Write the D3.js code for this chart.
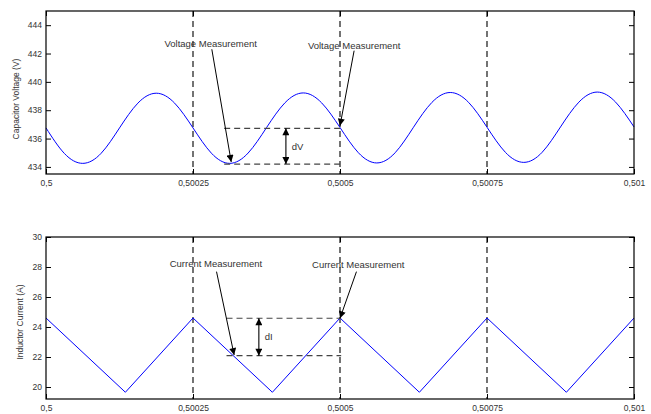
<!DOCTYPE html>
<html>
<head>
<meta charset="utf-8">
<script src="https://cdn.jsdelivr.net/npm/d3@7"></script>
<style>
  html, body { margin: 0; padding: 0; background: #fff; }
  svg { display: block; font-family: "Liberation Sans", Arial, sans-serif; }
</style>
</head>
<body>
<svg id="chart" width="651" height="414"></svg>
<script>
// ---------- Data ----------
// Voltage sampled every 1/8 of the 0.00025 s period, from 0.5 to 0.501
const voltageTimes = [
  0.5, 0.50003125, 0.5000625, 0.50009375, 0.500125, 0.50015625, 0.5001875, 0.50021875,
  0.50025, 0.50028125, 0.5003125, 0.50034375, 0.500375, 0.50040625, 0.5004375, 0.50046875,
  0.5005, 0.50053125, 0.5005625, 0.50059375, 0.500625, 0.50065625, 0.5006875, 0.50071875,
  0.50075, 0.50078125, 0.5008125, 0.50084375, 0.500875, 0.50090625, 0.5009375, 0.50096875,
  0.501
];
const voltageValues = [
  436.75, 434.95, 434.25, 434.96, 436.75, 438.50, 439.20, 438.50,
  436.75, 434.97, 434.25, 434.98, 436.77, 438.52, 439.22, 438.52,
  436.78, 435.00, 434.28, 435.00, 436.80, 438.55, 439.25, 438.55,
  436.80, 435.03, 434.32, 435.03, 436.82, 438.57, 439.28, 438.57,
  436.82
];
const currentTimes = [0.5, 0.500135, 0.50025, 0.500385, 0.5005, 0.500635, 0.50075, 0.500885, 0.501];
const currentValues = [24.6, 19.65, 24.6, 19.65, 24.6, 19.65, 24.6, 19.65, 24.6];

const xTicks = [0.5, 0.50025, 0.5005, 0.50075, 0.501];
const xDomain = [0.5, 0.501];
const markerTimes = [0.50025, 0.5005, 0.50075];
const voltageTicks = [434, 436, 438, 440, 442, 444];
const voltageDomain = [433.5, 445];
const currentTicks = [20, 22, 24, 26, 28, 30];
const currentDomain = [19.2, 30];

const voltageLabel = "Capacitor Voltage (V)";
const currentLabel = "Inductor Current (A)";

// Annotations (in data units)
const voltageNotes = [
  { text: "Voltage Measurement", t: 0.50028, v: 442.7, tailT: 0.500282, tailV: 442.3, tipT: 0.500315, tipV: 434.35 },
  { text: "Voltage Measurement", t: 0.500524, v: 442.55, tailT: 0.500524, tailV: 442.2, tipT: 0.5005, tipV: 436.9 }
];
const voltageDelta = { label: "dV", t0: 0.500303, t1: 0.5005, hi: 436.72, lo: 434.2, arrowT: 0.500408, labelT: 0.500418 };

const currentNotes = [
  { text: "Current Measurement", t: 0.500289, v: 28.2, tailT: 0.50029, tailV: 27.69, tipT: 0.50032, tipV: 22.13 },
  { text: "Current Measurement", t: 0.500531, v: 28.18, tailT: 0.500528, tailV: 27.69, tipT: 0.5005, tipV: 24.58 }
];
const currentDelta = { label: "dI", t0: 0.500307, t1: 0.500502, hi: 24.58, lo: 22.09, arrowT: 0.500362, labelT: 0.500372 };

// ---------- Drawing ----------
const svg = d3.select("#chart");
const defs = svg.append("defs");
defs.append("marker")
  .attr("id", "arrow")
  .attr("viewBox", "0 0 10 10")
  .attr("refX", 10).attr("refY", 5)
  .attr("markerUnits", "userSpaceOnUse")
  .attr("markerWidth", 9).attr("markerHeight", 7)
  .attr("orient", "auto-start-reverse")
  .append("path").attr("d", "M0,0 L10,5 L0,10 Z").attr("fill", "#000");

const left = 46, right = 634;
const fmt = d => String(+d.toFixed(5)).replace(".", ",");

function panel(cfg) {
  const { top, bottom, times, values, yDomain, yTicks, yLabel, labelX, labelY, notes, delta, curve } = cfg;
  const x = d3.scaleLinear().domain(xDomain).range([left, right]);
  const y = d3.scaleLinear().domain(yDomain).range([bottom, top]);
  const g = svg.append("g");

  // dashed vertical lines
  g.selectAll("line.vmark").data(markerTimes).enter().append("line")
    .attr("x1", d => x(d)).attr("x2", d => x(d))
    .attr("y1", top).attr("y2", bottom)
    .attr("stroke", "#000").attr("stroke-width", 1.1)
    .attr("stroke-dasharray", "6,4");

  // series
  const pts = times.map((t, i) => [t, values[i]]);
  g.append("path").datum(pts)
    .attr("fill", "none").attr("stroke", "#0000ff").attr("stroke-width", 1)
    .attr("d", d3.line().x(d => x(d[0])).y(d => y(d[1])).curve(curve));

  // axes
  const yl = g.append("g").attr("transform", `translate(${left},0)`)
    .call(d3.axisLeft(y).tickValues(yTicks).tickSize(-5).tickPadding(4));
  const yr = g.append("g").attr("transform", `translate(${right},0)`)
    .call(d3.axisRight(y).tickValues(yTicks).tickSize(-5).tickFormat(""));
  const xb = g.append("g").attr("transform", `translate(0,${bottom})`)
    .call(d3.axisBottom(x).tickValues(xTicks).tickSize(-5).tickPadding(6).tickFormat(fmt));
  const xt = g.append("g").attr("transform", `translate(0,${top})`)
    .call(d3.axisTop(x).tickValues(xTicks).tickSize(-5).tickFormat(""));
  [yl, yr, xb, xt].forEach(a => {
    a.select(".domain").remove();
    a.selectAll(".tick line").attr("stroke", "#000").attr("stroke-width", 1);
    a.selectAll(".tick text").attr("fill", "#333").style("font-size", "8.5px")
      .style("font-family", "'Liberation Sans', Arial, sans-serif");
  });

  // border
  g.append("rect").attr("x", left).attr("y", top)
    .attr("width", right - left).attr("height", bottom - top)
    .attr("fill", "none").attr("stroke", "#000").attr("stroke-width", 1.2);

  // y label
  g.append("text")
    .attr("transform", `translate(${labelX},${labelY}) rotate(-90)`)
    .attr("text-anchor", "middle").attr("dy", "0.35em")
    .attr("fill", "#333").style("font-size", "8.5px")
    .text(yLabel);

  // delta dashed lines
  [delta.hi, delta.lo].forEach(v => {
    g.append("line")
      .attr("x1", x(delta.t0)).attr("x2", x(delta.t1))
      .attr("y1", y(v)).attr("y2", y(v))
      .attr("stroke", "#444").attr("stroke-width", 1.1)
      .attr("stroke-dasharray", "6,4");
  });
  g.append("line")
    .attr("x1", x(delta.arrowT)).attr("x2", x(delta.arrowT))
    .attr("y1", y(delta.hi)).attr("y2", y(delta.lo))
    .attr("stroke", "#000").attr("stroke-width", 1.1)
    .attr("marker-start", "url(#arrow)").attr("marker-end", "url(#arrow)");
  g.append("text")
    .attr("x", x(delta.labelT)).attr("y", y((delta.hi + delta.lo) / 2))
    .attr("dy", "0.35em").attr("fill", "#333").style("font-size", "9.5px")
    .text(delta.label);

  // annotation arrows and texts
  notes.forEach(n => {
    g.append("line")
      .attr("x1", x(n.tailT)).attr("y1", y(n.tailV))
      .attr("x2", x(n.tipT)).attr("y2", y(n.tipV))
      .attr("stroke", "#000").attr("stroke-width", 1)
      .attr("marker-end", "url(#arrow)");
    g.append("text")
      .attr("x", x(n.t)).attr("y", y(n.v))
      .attr("text-anchor", "middle").attr("dy", "0.35em")
      .attr("fill", "#333").style("font-size", "9.5px")
      .text(n.text);
  });
}

panel({
  top: 11, bottom: 174, times: voltageTimes, values: voltageValues,
  yDomain: voltageDomain, yTicks: voltageTicks, yLabel: voltageLabel,
  labelX: 16, labelY: 99, notes: voltageNotes, delta: voltageDelta, curve: d3.curveNatural
});
panel({
  top: 237, bottom: 399, times: currentTimes, values: currentValues,
  yDomain: currentDomain, yTicks: currentTicks, yLabel: currentLabel,
  labelX: 20, labelY: 322, notes: currentNotes, delta: currentDelta, curve: d3.curveLinear
});
</script>
</body>
</html>
